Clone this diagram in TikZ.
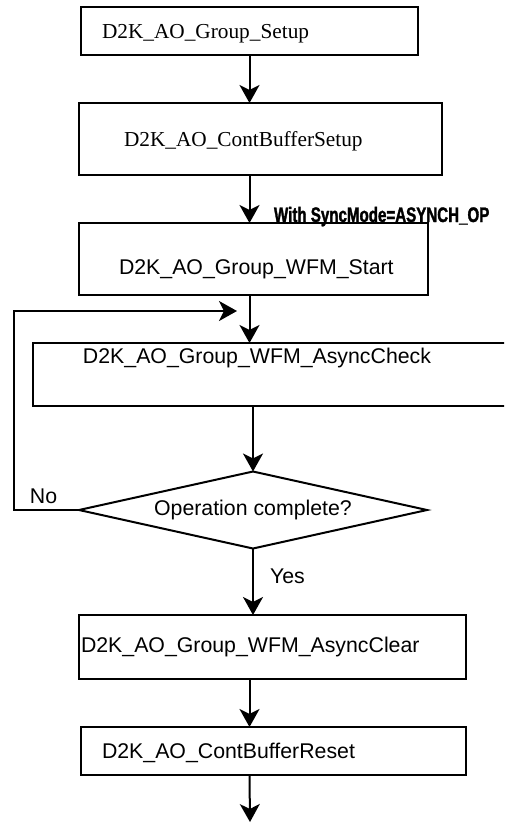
\documentclass[tikz,border=0pt]{standalone}
\usepackage{graphicx}
\usepackage{fontspec}
\setmainfont{Liberation Serif}
\newfontfamily\arial{Liberation Sans}
\newfontfamily\condheavy[FakeStretch=0.72, BoldFeatures={FakeBold=1.5}]{Liberation Sans}
\usetikzlibrary{arrows.meta,shapes.geometric}

\begin{document}
\begin{tikzpicture}[
  x=1pt, y=-1pt,
  every node/.style={inner sep=0pt, outer sep=0pt},
  bigtext/.style={font=\fontsize{21.3pt}{25pt}\selectfont},
  procbox/.style={draw, line width=2pt, rectangle, align=left, bigtext,
                  text height=15pt, text depth=0pt},
  decision/.style={draw, line width=2pt, diamond, shape aspect=4.52,
                   font=\arial\fontsize{21.3pt}{25pt}\selectfont,
                   minimum width=348pt, minimum height=77pt},
  flow/.style={line width=2pt, -{Stealth[length=18pt, width=20pt, inset=5pt]}},
  tag/.style={anchor=base west, font=\arial\fontsize{21.3pt}{25pt}\selectfont}
]
\useasboundingbox (0,0) rectangle (504,823);
\clip (0,0) rectangle (504,823);

% process steps
\node[procbox, text width=337pt, minimum height=48pt] (b1) at (249.5,31)
  {\hspace*{21pt}D2K\_AO\_Group\_Setup};
\node[procbox, text width=363pt, minimum height=72pt] (b2) at (260.5,139)
  {\hspace*{45pt}D2K\_AO\_ContBufferSetup};
\node[procbox, text width=349pt, minimum height=72pt] (b3) at (253.5,259)
  {\raisebox{-7.5pt}{\hspace*{40pt}\arial D2K\_AO\_Group\_WFM\_Start}};
\node[procbox, text width=500pt, minimum height=63pt] (b4) at (283,374.5)
  {\raisebox{19pt}{\hspace*{50pt}\arial D2K\_AO\_Group\_WFM\_AsyncCheck}};
\node[decision] (dia) at (253,510) {\raisebox{3pt}{Operation complete?}};
\node[procbox, text width=387pt, minimum height=64pt] (b5) at (272.5,647)
  {\raisebox{2.5pt}{\hspace*{2pt}\arial D2K\_AO\_Group\_WFM\_AsyncClear}};
\node[procbox, text width=385pt, minimum height=48pt] (b6) at (273.5,751)
  {\hspace*{21pt}\arial D2K\_AO\_ContBufferReset};

% labels
\node[anchor=base west, font=\condheavy\bfseries\fontsize{21pt}{24pt}\selectfont] (mode) at (274,222)
  {With SyncMode=ASYNCH\_OP};
\node[tag] (nolbl) at (30,503) {No};
\node[tag] (yeslbl) at (270,583) {Yes};

% free ends
\coordinate (out) at (250,822);
\coordinate (loopturn) at (14,311);
\coordinate (loopend) at (237,311);

% connectors
\draw[flow] (b1.south) -- (b1.south |- b2.north);
\draw[flow] (b1.south |- b2.south) -- (b1.south |- b3.north);
\draw[flow] (b1.south |- b3.south) -- (b1.south |- b4.north);
\draw[flow] (dia.north |- b4.south) -- (dia.north);
\draw[flow] (dia.south) -- (dia.south |- b5.north);
\draw[flow] (b1.south |- b5.south) -- (b1.south |- b6.north);
\draw[flow] (b1.south |- b6.south) -- (out);
\draw[flow] (dia.west) -| (loopturn) -- (loopend);
\end{tikzpicture}
\end{document}
